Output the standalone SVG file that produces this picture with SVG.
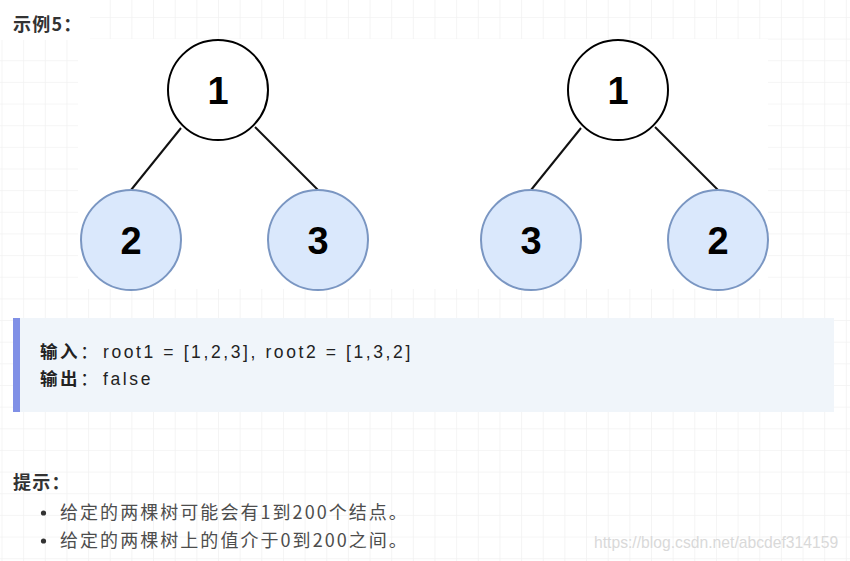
<svg xmlns="http://www.w3.org/2000/svg" width="850" height="561" viewBox="0 0 850 561">
  <defs>
    <pattern id="grid" x="1.5" y="16.95" width="21.65" height="21.65" patternUnits="userSpaceOnUse">
      <path d="M0 0 H21.65 M0 0 V21.65" fill="none" stroke="#f2f2f2" stroke-width="1.6"/>
    </pattern>
    <style>
      .root { fill: #ffffff; stroke: #000000; stroke-width: 2; }
      .leaf { fill: #dae8fc; stroke: #7a96c2; stroke-width: 2; }
      .num { font-family: "Liberation Sans", Arial, sans-serif; font-weight: bold; font-size: 38px; fill: #000; text-anchor: middle; }
      .edge { stroke: #111; stroke-width: 2; fill: none; }
      .head { font-family: "Noto Sans CJK SC", sans-serif; font-weight: bold; font-size: 18px; letter-spacing: 1.2px; fill: #333; }
      .code { font-family: "Liberation Sans", "Noto Sans CJK SC", sans-serif; font-size: 17.5px; letter-spacing: 2.6px; fill: #222; }
      .li { font-family: "Noto Sans CJK SC", sans-serif; font-size: 18px; letter-spacing: 2.05px; fill: #4d4d4d; }
    </style>
  </defs>
  <rect width="850" height="561" fill="#ffffff"/>
  <rect width="850" height="561" fill="url(#grid)"/>

  <!-- header -->
  <rect x="0" y="0" width="90" height="40" fill="#ffffff"/>
  <text class="head" x="13" y="31">示例5：</text>

  <!-- tree image area -->
  <rect x="78" y="39" width="690" height="250" fill="#ffffff"/>

  <g id="connectors">
    <line class="edge" x1="181" y1="128" x2="131" y2="190"/>
    <line class="edge" x1="255" y1="127" x2="318" y2="190"/>
    <line class="edge" x1="581" y1="128" x2="531" y2="190"/>
    <line class="edge" x1="655" y1="127" x2="718" y2="190"/>
  </g>

  <g id="t1-root">
    <circle class="root" cx="218" cy="90" r="50"/>
    <text class="num" x="218" y="104">1</text>
  </g>
  <g id="t1-left">
    <circle class="leaf" cx="131" cy="240" r="50"/>
    <text class="num" x="131" y="254">2</text>
  </g>
  <g id="t1-right">
    <circle class="leaf" cx="318" cy="240" r="50"/>
    <text class="num" x="318" y="254">3</text>
  </g>
  <g id="t2-root">
    <circle class="root" cx="618" cy="90" r="50"/>
    <text class="num" x="618" y="104">1</text>
  </g>
  <g id="t2-left">
    <circle class="leaf" cx="531" cy="240" r="50"/>
    <text class="num" x="531" y="254">3</text>
  </g>
  <g id="t2-right">
    <circle class="leaf" cx="718" cy="240" r="50"/>
    <text class="num" x="718" y="254">2</text>
  </g>

  <!-- example block -->
  <g id="example">
    <rect x="13" y="318" width="821" height="94" fill="#f0f5fa"/>
    <rect x="13" y="318" width="7" height="94" fill="#8090e6"/>
    <text class="code" x="40" y="358"><tspan font-weight="bold">输入</tspan>：<tspan x="103">root1 = [1,2,3], root2 = [1,3,2]</tspan></text>
    <text class="code" x="40" y="385"><tspan font-weight="bold">输出</tspan>：<tspan x="103">false</tspan></text>
  </g>

  <!-- hints -->
  <g id="hints">
    <text class="head" x="13" y="489">提示：</text>
    <circle cx="43.5" cy="513" r="2.6" fill="#333"/>
    <circle cx="43.5" cy="541" r="2.6" fill="#333"/>
    <text class="li" x="60" y="519">给定的两棵树可能会有1到200个结点。</text>
    <text class="li" x="60" y="547">给定的两棵树上的值介于0到200之间。</text>
  </g>

  <text x="594" y="548" font-family="Liberation Sans, Arial, sans-serif" font-size="15.7px" fill="#d9d9d9">https://blog.csdn.net/abcdef314159</text>
</svg>
